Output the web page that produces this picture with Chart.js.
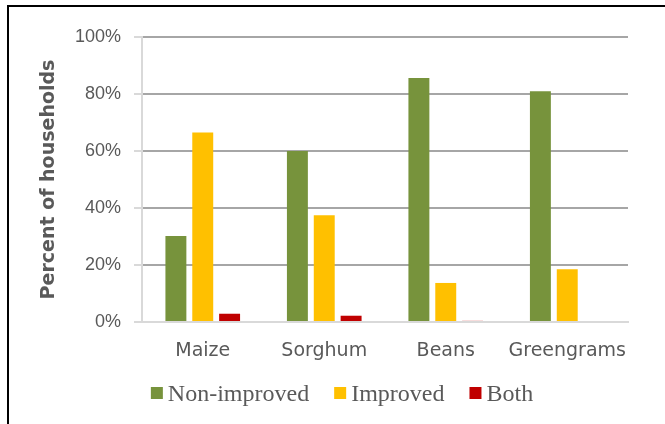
<!DOCTYPE html>
<html>
<head>
<meta charset="utf-8">
<script src="https://cdn.jsdelivr.net/npm/chart.js@4.4.0/dist/chart.umd.min.js"></script>
<style>
  html, body { margin: 0; padding: 0; background: #fff; }
  #wrap { position: relative; width: 665px; height: 424px; }
  #frame { position: absolute; left: 7px; top: 5px; right: 0; bottom: 0;
           border-left: 2px solid #000; border-top: 2px solid #000; pointer-events: none; }
</style>
</head>
<body>
<div id="wrap">
  <canvas id="chartCrops" width="665" height="424"></canvas>
  <div id="frame"></div>
</div>
<script>
// values (percent of households)
const crops = ["Maize", "Sorghum", "Beans", "Greengrams"];
const nonImproved = [30.2, 60, 85.6, 81];
const improved = [66.5, 37.5, 13.7, 18.5];
const both = [2.9, 2.2, 0.4, 0];
const yTicks = [0, 20, 40, 60, 80, 100];

const textColor = '#595959';

// legend drawn by hand so the box/text spacing matches the original
const legendPlugin = {
    id: 'legendBelow',
    afterDraw(chart) {
        const ctx = chart.ctx;
        ctx.save();
        ctx.font = '24px "Liberation Serif"';
        const box = 12, gapText = 5, gapItem = 25;
        const items = chart.data.datasets.map(ds => ({
            text: ds.label,
            color: ds.backgroundColor,
            w: ctx.measureText(ds.label).width
        }));
        const total = items.reduce((s, it) => s + box + gapText + it.w, 0) + gapItem * (items.length - 1);
        let x = 342 - total / 2;
        items.forEach(it => {
            ctx.fillStyle = it.color;
            ctx.fillRect(x, 387, box, box);
            ctx.fillStyle = textColor;
            ctx.textBaseline = 'alphabetic';
            ctx.fillText(it.text, x + box + gapText, 401);
            x += box + gapText + it.w + gapItem;
        });
        ctx.restore();
    }
};

const ctx = document.getElementById('chartCrops').getContext('2d');
new Chart(ctx, {
    type: 'bar',
    data: {
        labels: crops,
        datasets: [
            { label: 'Non-improved', data: nonImproved, backgroundColor: '#77933c' },
            { label: 'Improved', data: improved, backgroundColor: '#ffc000' },
            { label: 'Both', data: both, backgroundColor: '#c00000' }
        ]
    },
    plugins: [legendPlugin],
    options: {
        responsive: false,
        animation: false,
        devicePixelRatio: 1,
        categoryPercentage: 0.663,
        barPercentage: 0.78,
        layout: { padding: { left: 0, right: 37, top: 37, bottom: 62 } },
        plugins: {
            legend: { display: false },
            tooltip: { enabled: false }
        },
        scales: {
            x: {
                grid: { display: false },
                border: { color: '#d9d9d9', width: 2 },
                ticks: {
                    color: textColor,
                    font: { family: '"DejaVu Sans"', size: 19 },
                    padding: 10,
                    maxRotation: 0,
                    minRotation: 0,
                    autoSkip: false
                },
                afterFit(scale) { scale.height = 40; }
            },
            y: {
                min: 0,
                max: 100,
                afterBuildTicks(scale) { scale.ticks = yTicks.map(v => ({ value: v })); },
                ticks: {
                    color: textColor,
                    font: { family: '"Liberation Sans"', size: 18 },
                    padding: 13,
                    callback: v => v + '%'
                },
                grid: {
                    color: c => (c.tick && c.tick.value === 0) ? '#d9d9d9' : '#a6a6a6',
                    lineWidth: 2,
                    tickColor: '#d9d9d9',
                    tickLength: 8
                },
                border: { color: '#d9d9d9', width: 2 },
                title: {
                    display: true,
                    text: 'Percent of households',
                    color: textColor,
                    font: { family: '"DejaVu Sans"', size: 19, weight: 'bold' },
                    padding: { top: 38, bottom: 0 }
                },
                afterFit(scale) { scale.width = 142; }
            }
        }
    }
});
</script>
</body>
</html>
